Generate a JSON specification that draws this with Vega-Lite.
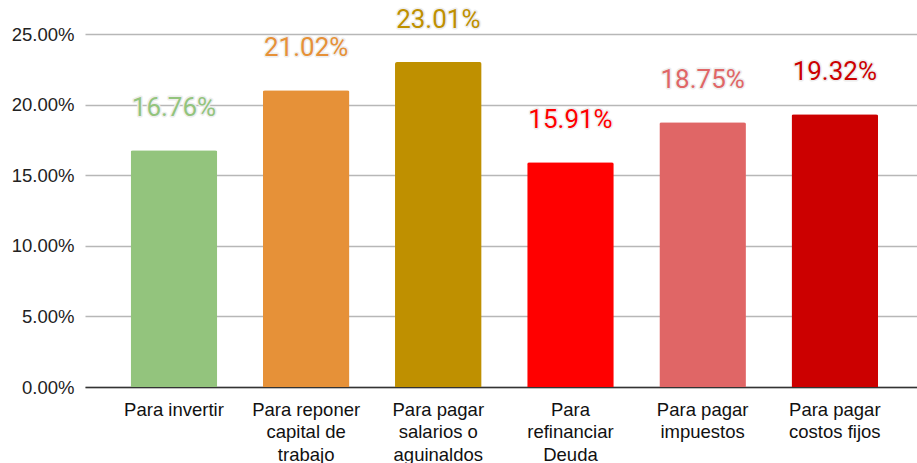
{
  "$schema": "https://vega.github.io/schema/vega-lite/v6.json",
  "width": 832,
  "height": 353,
  "autosize": {"type": "none"},
  "padding": {"left": 85, "top": 34, "right": 0, "bottom": 76},
  "background": "white",
  "config": {"view": {"stroke": null}, "font": "Roboto"},
  "data": {
    "values": [
      {"cat": "Para invertir", "value": 0.1676, "color": "#93c47d"},
      {"cat": "Para reponer|capital de|trabajo", "value": 0.2102, "color": "#e69138"},
      {"cat": "Para pagar|salarios o|aguinaldos", "value": 0.2301, "color": "#bf9000"},
      {"cat": "Para|refinanciar|Deuda", "value": 0.1591, "color": "#ff0000"},
      {"cat": "Para pagar|impuestos", "value": 0.1875, "color": "#e06666"},
      {"cat": "Para pagar|costos fijos", "value": 0.1932, "color": "#cc0000"}
    ]
  },
  "encoding": {
    "x": {
      "field": "cat",
      "type": "nominal",
      "sort": null,
      "scale": {"paddingInner": 0.345, "paddingOuter": 0.32, "align": 0.54},
      "axis": {
        "title": null,
        "labelAngle": 0,
        "labelExpr": "split(datum.label, '|')",
        "labelFont": "Liberation Sans",
        "labelFontSize": 18.5,
        "labelLineHeight": 22.5,
        "labelColor": "#111",
        "labelPadding": 13,
        "ticks": false,
        "domainColor": "#333",
        "domainWidth": 1.5,
        "labelBaseline": "top"
      }
    },
    "y": {
      "field": "value",
      "type": "quantitative",
      "scale": {"domain": [0, 0.25], "nice": false},
      "axis": {
        "title": null,
        "format": ".2%",
        "values": [0, 0.05, 0.1, 0.15, 0.2, 0.25],
        "labelFont": "Liberation Sans",
        "labelFontSize": 18.5,
        "labelColor": "#222",
        "labelPadding": 11,
        "ticks": false,
        "domain": false,
        "gridColor": "#b7b7b7",
        "gridWidth": 1.5
      }
    },
    "color": {"field": "color", "type": "nominal", "scale": null, "legend": null}
  },
  "layer": [
    {"mark": {"type": "bar", "cornerRadiusTopLeft": 2, "cornerRadiusTopRight": 2}},
    {
      "mark": {"type": "text", "baseline": "alphabetic", "dy": -34, "fontSize": 26, "stroke": "#eeeeee", "strokeWidth": 3, "strokeJoin": "round"},
      "encoding": {"text": {"field": "value", "type": "quantitative", "format": ".2%"}}
    },
    {
      "mark": {"type": "text", "baseline": "alphabetic", "dy": -34, "fontSize": 26},
      "encoding": {"text": {"field": "value", "type": "quantitative", "format": ".2%"}}
    }
  ]
}
